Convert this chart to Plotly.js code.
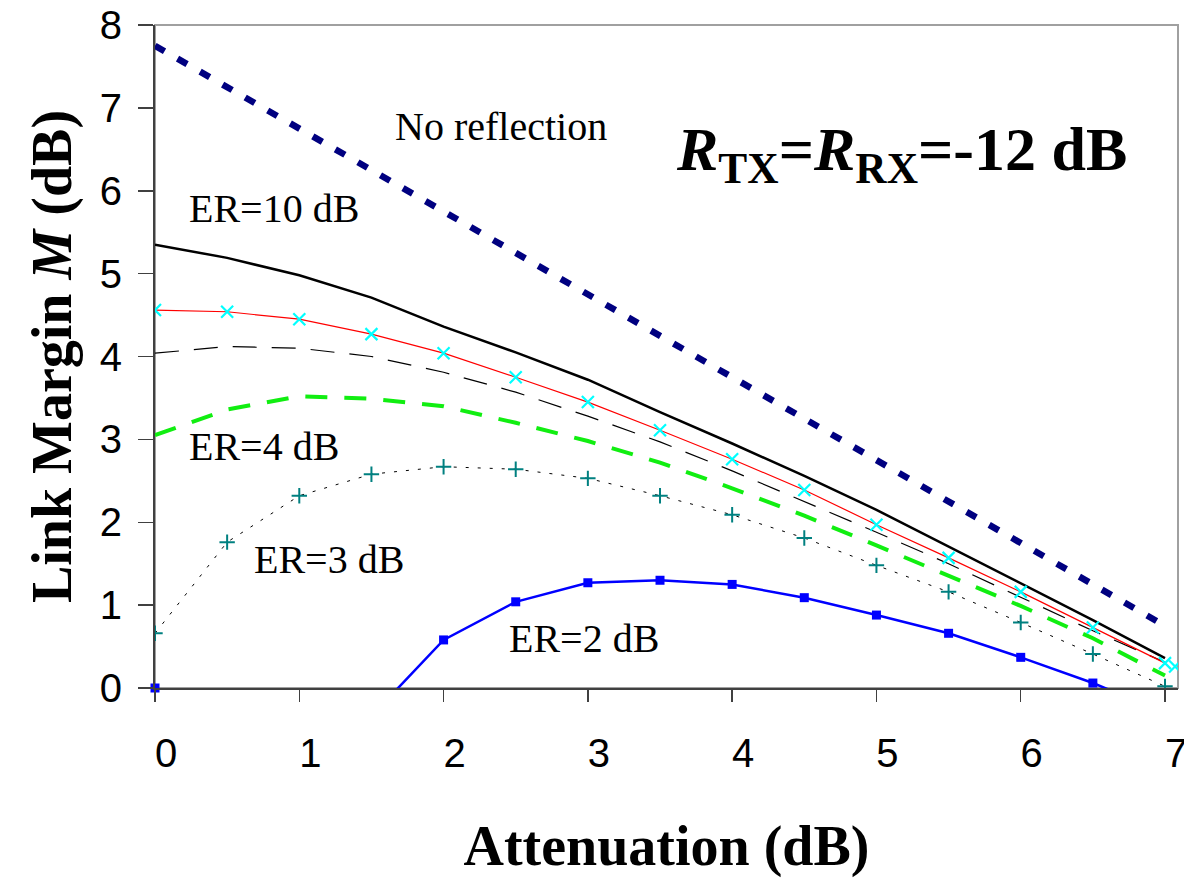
<!DOCTYPE html>
<html>
<head>
<meta charset="utf-8">
<script src="https://cdn.plot.ly/plotly-3.0.1.min.js"></script>
<style>html,body{margin:0;padding:0;background:#fff;}</style>
</head>
<body>
<div id="chart" style="width:1184px;height:880px;"></div>
<script>
// Attenuation (dB)
const attenuation = [0, 0.5, 1, 1.5, 2, 2.5, 3, 3.5, 4, 4.5, 5, 5.5, 6, 6.5, 7];
// Link margin M (dB) for each curve
const noReflection = [7.75, 7.25, 6.75, 6.25, 5.75, 5.25, 4.75, 4.25, 3.75, 3.25, 2.75, 2.25, 1.75, 1.25, 0.75];
const er10 = [5.35, 5.19, 4.98, 4.71, 4.36, 4.05, 3.72, 3.33, 2.95, 2.56, 2.15, 1.71, 1.27, 0.82, 0.36];
const erRedLine = [4.56, 4.54, 4.45, 4.27, 4.04, 3.75, 3.45, 3.11, 2.76, 2.39, 1.97, 1.57, 1.16, 0.73, 0.30];
const cyanX = [0, 0.5, 1, 1.5, 2, 2.5, 3, 3.5, 4, 4.5, 5, 5.5, 6, 6.5, 7, 7.07];
const cyanY = [4.56, 4.54, 4.45, 4.27, 4.04, 3.75, 3.45, 3.11, 2.76, 2.39, 1.97, 1.57, 1.16, 0.73, 0.30, 0.26];
const erBlackDash = [4.04, 4.12, 4.10, 4.00, 3.81, 3.57, 3.28, 2.97, 2.62, 2.25, 1.88, 1.50, 1.09, 0.69, 0.31];
const er4 = [3.05, 3.36, 3.52, 3.49, 3.40, 3.20, 2.98, 2.72, 2.41, 2.08, 1.72, 1.36, 0.99, 0.60, 0.15];
const er3 = [0.66, 1.76, 2.32, 2.58, 2.67, 2.64, 2.53, 2.32, 2.09, 1.81, 1.48, 1.16, 0.79, 0.41, 0.02];
const er2 = [0, null, null, -0.34, 0.58, 1.04, 1.27, 1.30, 1.25, 1.09, 0.88, 0.66, 0.37, 0.06, -0.30];

// tick labels
const xTicks = [0, 1, 2, 3, 4, 5, 6, 7];
const yTicks = [0, 1, 2, 3, 4, 5, 6, 7, 8];

// curve labels
const labels = [
  {text: 'No reflection', x: 1.65, y: 6.78},
  {text: 'ER=10 dB', x: 0.22, y: 5.79},
  {text: 'ER=4 dB', x: 0.22, y: 2.91},
  {text: 'ER=3 dB', x: 0.67, y: 1.545},
  {text: 'ER=2 dB', x: 2.44, y: 0.60}
];

// blue markers that lie on or above the axis
const er2MarkX = attenuation.filter((v, i) => er2[i] !== null && er2[i] >= 0);
const er2MarkY = er2.filter(v => v !== null && v >= 0);

const traces = [
  {x: attenuation, y: er2, mode: 'lines', connectgaps: false,
   line: {color: '#0000ff', width: 2.5}},
  {x: er2MarkX, y: er2MarkY, mode: 'markers', cliponaxis: false,
   marker: {symbol: 'square', size: 9, color: '#0000ff'}},
  {x: attenuation, y: er3, mode: 'lines+markers',
   line: {color: '#000000', width: 1, dash: '3px,9px'},
   marker: {symbol: 'cross-thin', size: 11, line: {color: '#008080', width: 2}, color: '#008080'}},
  {x: attenuation, y: er4, mode: 'lines',
   line: {color: '#11ee11', width: 4, dash: '22px,17px'}},
  {x: attenuation, y: erBlackDash, mode: 'lines',
   line: {color: '#000000', width: 1.2, dash: '24px,15px'}},
  {x: attenuation, y: erRedLine, mode: 'lines',
   line: {color: '#ff0000', width: 1.2}},
  {x: attenuation, y: er10, mode: 'lines',
   line: {color: '#000000', width: 2.5}},
  {x: attenuation, y: noReflection, mode: 'lines',
   line: {color: '#000080', width: 6.5, dash: '11px,15px'}},
  {x: cyanX, y: cyanY, mode: 'markers',
   marker: {symbol: 'x-thin', size: 12, line: {color: '#00ffff', width: 2.2}, color: '#00ffff'}}
];

const serif = 'Liberation Serif, Times New Roman, serif';
const sans = 'Liberation Sans, Arial, sans-serif';

const annotations = labels.map(l => ({
  x: l.x, y: l.y, xref: 'x', yref: 'y', text: l.text, showarrow: false,
  xanchor: 'left', yanchor: 'middle', font: {family: serif, size: 40, color: '#000'}
}));
annotations.push({
  x: 3.6, y: 6.45, xref: 'x', yref: 'y', xanchor: 'left', yanchor: 'middle', showarrow: false,
  text: '<i>R</i><sub>TX</sub>=<i>R</i><sub>RX</sub>=-12 dB',
  font: {family: serif, size: 62, color: '#000', weight: 700}
});

const layout = {
  width: 1184, height: 880, autosize: false,
  margin: {l: 155, r: 6, t: 25, b: 192},
  paper_bgcolor: '#ffffff', plot_bgcolor: '#ffffff',
  showlegend: false,
  xaxis: {
    range: [0, 7.09], tickvals: xTicks, ticktext: xTicks.map(String),
    ticks: 'outside', ticklen: 12, tickwidth: 1.5, tickcolor: '#404040',
    showline: true, linecolor: '#404040', linewidth: 2,
    showgrid: false, zeroline: false,
    tickfont: {family: sans, size: 40, color: '#000'},
    ticklabelshift: 11, ticklabelstandoff: 17, ticklabeloverflow: 'allow',
    title: {text: 'Attenuation (dB)', font: {family: serif, size: 56, color: '#000', weight: 700}, standoff: 52}
  },
  yaxis: {
    range: [0, 8], tickvals: yTicks, ticktext: yTicks.map(String),
    ticks: 'outside', ticklen: 15, tickwidth: 1.5, tickcolor: '#404040',
    showline: true, linecolor: '#404040', linewidth: 2,
    showgrid: false, zeroline: false,
    tickfont: {family: sans, size: 40, color: '#000'},
    ticklabelstandoff: 8,
    title: {text: 'Link Margin <i>M</i> (dB)', font: {family: serif, size: 56, color: '#000', weight: 700}, standoff: 10}
  },
  shapes: [{type: 'rect', xref: 'paper', yref: 'paper', x0: 0, x1: 1, y0: 0, y1: 1,
            line: {color: '#a0a0a0', width: 2}, layer: 'below'}],
  annotations: annotations
};

Plotly.newPlot('chart', traces, layout, {displayModeBar: false, staticPlot: true});
</script>
</body>
</html>
